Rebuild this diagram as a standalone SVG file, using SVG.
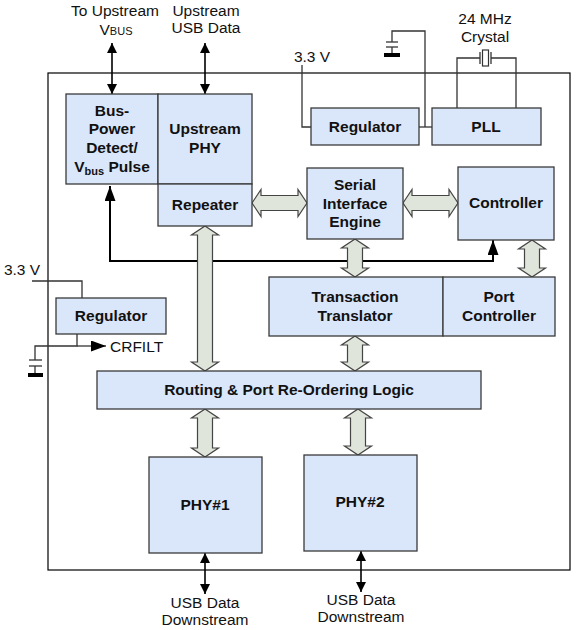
<svg xmlns="http://www.w3.org/2000/svg" width="577" height="630" viewBox="0 0 577 630">
<defs>
<style>
.box{fill:#dae7fb;stroke:#3a3a3a;stroke-width:1.3}
.t{font-family:"Liberation Sans",Arial,sans-serif;font-size:15.5px;fill:#111;text-anchor:middle}
.b{font-weight:bold}
.w{fill:none;stroke:#333;stroke-width:1.3}
.fat{fill:#dfe5da;stroke:#444;stroke-width:1.2;stroke-linejoin:miter}
.thin{fill:none;stroke:#000;stroke-width:1.6}
.heavy{fill:none;stroke:#000;stroke-width:2}
</style>
<marker id="ah" viewBox="0 0 10 10" refX="10" refY="5" markerWidth="10" markerHeight="10" markerUnits="userSpaceOnUse" orient="auto-start-reverse"><path d="M0,0 L10,5 L0,10 z" fill="#000"/></marker>
<marker id="ahb" viewBox="0 0 15 11" refX="15" refY="5.5" markerWidth="15" markerHeight="11" markerUnits="userSpaceOnUse" orient="auto-start-reverse"><path d="M0,0 L15,5.5 L0,11 z" fill="#000"/></marker>
</defs>
<rect width="577" height="630" fill="#fff"/>

<rect id="outer" x="48" y="73" width="522" height="497" fill="none" stroke="#000" stroke-width="1.2"/>

<g id="connectors">
<!-- top thin arrows -->
<line class="thin" x1="112" y1="43" x2="112" y2="94" marker-start="url(#ah)" marker-end="url(#ah)"/>
<line class="thin" x1="205" y1="43" x2="205" y2="94" marker-start="url(#ah)" marker-end="url(#ah)"/>
<!-- bottom thin arrows -->
<line class="thin" x1="205" y1="553" x2="205" y2="594" marker-start="url(#ah)" marker-end="url(#ah)"/>
<line class="thin" x1="361" y1="551" x2="361" y2="592" marker-start="url(#ah)" marker-end="url(#ah)"/>
<!-- 3.3V top to regulator -->
<polyline class="w" points="302,65 302,127 311,127"/>
<!-- regulator to PLL, with capacitor -->
<line class="w" x1="419" y1="127" x2="432" y2="127"/>
<polyline class="w" points="425,127 425,31 392,31 392,42"/>
<line class="w" x1="386" y1="42" x2="398" y2="42"/>
<line class="w" x1="386" y1="47" x2="398" y2="47"/>
<line class="w" x1="392" y1="47" x2="392" y2="53"/>
<rect x="384" y="53" width="16" height="4" fill="#000"/>
<!-- crystal -->
<polyline class="w" points="457,108 457,58 480,58"/>
<polyline class="w" points="491,58 516,58 516,108"/>
<line class="w" x1="480" y1="52" x2="480" y2="64"/>
<line class="w" x1="491" y1="52" x2="491" y2="64"/>
<rect x="482.5" y="50" width="6" height="16" fill="#fff" stroke="#333" stroke-width="1.2"/>
<!-- left regulator -->
<polyline class="w" points="32,281 82,281 82,298"/>
<polyline class="w" points="35,360 35,346 77,346 77,334"/>
<line class="w" x1="77" y1="346" x2="106" y2="346" marker-end="url(#ahb)"/>
<line class="w" x1="29" y1="360" x2="42" y2="360"/>
<line class="w" x1="29" y1="366" x2="42" y2="366"/>
<line class="w" x1="35" y1="366" x2="35" y2="373"/>
<rect x="28" y="373" width="15" height="4" fill="#000"/>
<!-- heavy black line bus-power to controller -->
<polyline class="heavy" points="110,186 110,261 493,261 493,240" marker-start="url(#ahb)" marker-end="url(#ahb)"/>
<!-- fat arrows -->
<polygon class="fat" points="252,203 261,189.5 261,195.5 298,195.5 298,189.5 307,203 298,216.5 298,210.5 261,210.5 261,216.5"/>
<polygon class="fat" points="403,203 412,189.5 412,195.5 449,195.5 449,189.5 458,203 449,216.5 449,210.5 412,210.5 412,216.5"/>
<polygon class="fat" points="355,239 368.5,248 362.5,248 362.5,268 368.5,268 355,277 341.5,268 347.5,268 347.5,248 341.5,248"/>
<polygon class="fat" points="532,240 545.5,249 539.5,249 539.5,268 545.5,268 532,277 518.5,268 524.5,268 524.5,249 518.5,249"/>
<polygon class="fat" points="205,226 218.5,235 212.5,235 212.5,362 218.5,362 205,371 191.5,362 197.5,362 197.5,235 191.5,235"/>
<polygon class="fat" points="355,336 368.5,345 362.5,345 362.5,362 368.5,362 355,371 341.5,362 347.5,362 347.5,345 341.5,345"/>
<polygon class="fat" points="205,409 218.5,418 212.5,418 212.5,448 218.5,448 205,457 191.5,448 197.5,448 197.5,418 191.5,418"/>
<polygon class="fat" points="358,409 371.5,418 365.5,418 365.5,446 371.5,446 358,455 344.5,446 350.5,446 350.5,418 344.5,418"/>
</g>

<g id="busPower">
<rect class="box" x="66" y="94" width="92" height="90"/>
<text class="t b" x="112" y="116">Bus-</text>
<text class="t b" x="112" y="134">Power</text>
<text class="t b" x="112" y="153">Detect/</text>
<text class="t b" x="112" y="172">V<tspan font-size="11" dy="3">bus</tspan><tspan dy="-3"> Pulse</tspan></text>
</g>
<g id="upstreamPhy">
<rect class="box" x="158" y="94" width="94" height="90"/>
<text class="t b" x="205" y="134">Upstream</text>
<text class="t b" x="205" y="153">PHY</text>
</g>
<g id="repeater">
<rect class="box" x="158" y="184" width="94" height="42"/>
<text class="t b" x="205" y="210">Repeater</text>
</g>
<g id="regulatorTop">
<rect class="box" x="311" y="108" width="108" height="37"/>
<text class="t b" x="365" y="132">Regulator</text>
</g>
<g id="pll">
<rect class="box" x="432" y="108" width="109" height="37"/>
<text class="t b" x="486" y="132">PLL</text>
</g>
<g id="sie">
<rect class="box" x="307" y="168" width="96" height="71"/>
<text class="t b" x="355" y="190">Serial</text>
<text class="t b" x="355" y="209">Interface</text>
<text class="t b" x="355" y="227">Engine</text>
</g>
<g id="controller">
<rect class="box" x="458" y="167" width="96" height="73"/>
<text class="t b" x="506" y="208">Controller</text>
</g>
<g id="tt">
<rect class="box" x="269" y="277" width="174" height="59"/>
<text class="t b" x="355" y="302">Transaction</text>
<text class="t b" x="355" y="321">Translator</text>
</g>
<g id="portController">
<rect class="box" x="443" y="277" width="112" height="59"/>
<text class="t b" x="499" y="302">Port</text>
<text class="t b" x="499" y="321">Controller</text>
</g>
<g id="regulatorLeft">
<rect class="box" x="56" y="298" width="110" height="36"/>
<text class="t b" x="111" y="321">Regulator</text>
</g>
<g id="routing">
<rect class="box" x="97" y="371" width="384" height="38"/>
<text class="t b" x="289" y="395">Routing &amp; Port Re-Ordering Logic</text>
</g>
<g id="phy1">
<rect class="box" x="149" y="457" width="113" height="96"/>
<text class="t b" x="205" y="510">PHY#1</text>
</g>
<g id="phy2">
<rect class="box" x="304" y="455" width="113" height="96"/>
<text class="t b" x="360" y="507">PHY#2</text>
</g>

<g id="labels">
<text class="t" x="115" y="16">To Upstream</text>
<text class="t" x="116" y="35">V<tspan font-size="11">BUS</tspan></text>
<text class="t" x="206" y="16">Upstream</text>
<text class="t" x="206" y="33">USB Data</text>
<text class="t" x="312" y="62">3.3 V</text>
<text class="t" x="485" y="24">24 MHz</text>
<text class="t" x="485" y="42">Crystal</text>
<text class="t" x="22" y="275">3.3 V</text>
<text class="t" x="110" y="352" text-anchor="start" style="text-anchor:start">CRFILT</text>
<text class="t" x="205" y="608">USB Data</text>
<text class="t" x="205" y="625">Downstream</text>
<text class="t" x="361" y="605">USB Data</text>
<text class="t" x="361" y="622">Downstream</text>
</g>
</svg>
